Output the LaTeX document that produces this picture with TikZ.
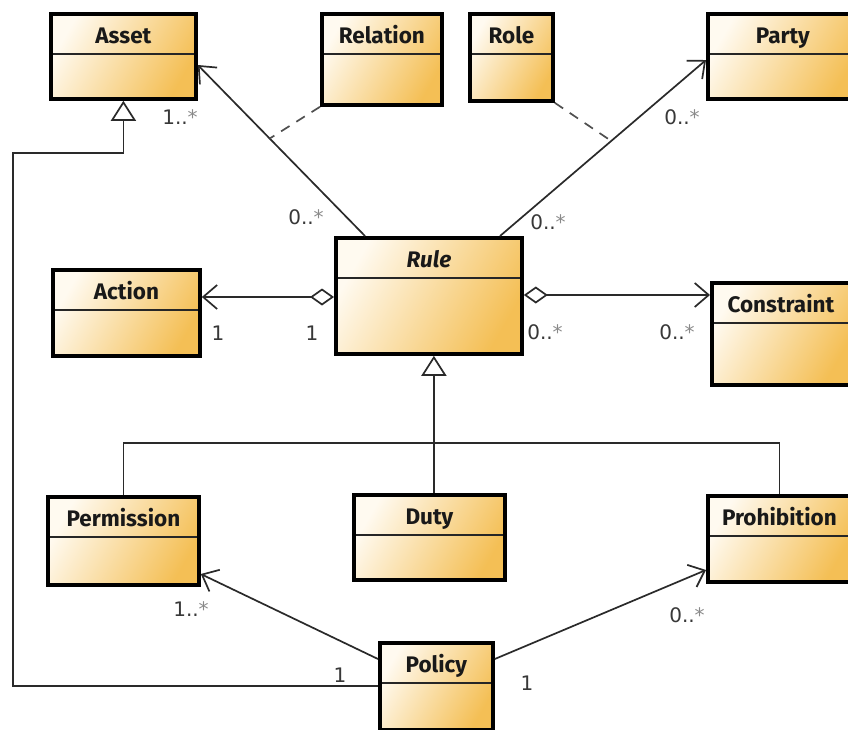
\documentclass[tikz,border=0pt]{standalone}
\usepackage{fontspec}
\usetikzlibrary{arrows.meta,calc}
\newfontfamily\titlefam{Fira Sans}
\newfontfamily\multfam{DejaVu Sans}
\definecolor{boxL}{HTML}{FFFAF0}
\definecolor{boxR}{HTML}{F4BF55}
\definecolor{lc}{HTML}{2A2A2A}
\definecolor{mc}{HTML}{383838}
\definecolor{ac}{HTML}{8A8A8A}
\definecolor{dc}{HTML}{505050}
\tikzset{
  cls/.style 2 args={draw=black, line width=3.8pt, left color=boxL, right color=boxR,
    shading angle=60, inner sep=0pt, anchor=north west, minimum width=#1,
    text height=30pt, text depth=#2, text=black!90,
    font=\titlefam\bfseries\fontsize{22.5}{26}\selectfont,
    path picture={\draw[line width=2.2pt, draw=black!85]
      ([yshift=-40pt]path picture bounding box.north west) --
      ([yshift=-40pt]path picture bounding box.north east);}},
  conn/.style={draw=lc, line width=1.7pt, line join=miter},
  assoc/.style={conn, -{Straight Barb[length=14pt,width=24pt,line width=1.7pt]}},
  aggr/.style={conn, {Diamond[open,length=24pt,width=17pt,fill=white,line width=1.7pt]}-{Straight Barb[length=14pt,width=24pt,line width=1.7pt]}},
  gen/.style={conn, -{Triangle[open,length=20pt,width=25pt,fill=white,line width=1.7pt]}},
  dep/.style={draw=dc, line width=1.7pt, dash pattern=on 10pt off 8pt},
  mult/.style={font=\multfam\fontsize{20}{23}\selectfont, text=mc, inner sep=0pt}
}
\newcommand{\mstar}{{\color{ac}*}}
\begin{document}
\begin{tikzpicture}[x=1pt,y=-1pt]
\fill[white] (0,0) rectangle (848,729);
\clip (0,0) rectangle (848,729);
% classes
\node[cls={145pt}{55pt}] (asset) at (49,12) {Asset};
\node[cls={120pt}{61pt}] (relation) at (320,12) {Relation};
\node[cls={83pt}{57pt}] (role) at (468,12) {Role};
\node[cls={150pt}{55pt}] (party) at (706,12) {Party};
\node[cls={186pt}{86pt}, font=\titlefam\bfseries\itshape\fontsize{22.5}{26}\selectfont] (rule) at (334,236) {Rule};
\node[cls={147pt}{56pt}] (action) at (51,268) {Action};
\node[cls={138pt}{72pt}] (constraint) at (710,281) {Constraint};
\node[cls={151pt}{58pt}] (permission) at (46,495) {Permission};
\node[cls={151pt}{55pt}] (duty) at (352,493) {Duty};
\node[cls={143pt}{56pt}] (prohibition) at (706,494) {Prohibition};
\node[cls={113pt}{57pt}] (policy) at (378,641) {Policy};
% associations from Rule
\draw[assoc] ([xshift=31pt]rule.north west) coordinate (rA) -- ([yshift=-53pt]asset.north east) coordinate (aA);
\draw[assoc] ([xshift=166pt]rule.north west) coordinate (rP) -- ([yshift=-48pt]party.north west) coordinate (pP);
\draw[dep] (relation.south west) -- ($(rA)!0.57!(aA)$);
\draw[dep] (role.south east) -- ($(rP)!0.54!(pP)$);
\draw[aggr] ([yshift=-61pt]rule.north west) -- ([yshift=-29pt]action.north east);
\draw[aggr] ([yshift=-59pt]rule.north east) -- ([yshift=-14pt]constraint.north west);
% generalisation to Rule
\coordinate (gtop) at ([xshift=5pt]rule.south);
\coordinate (bar) at (432,443);
\draw[gen] (duty.north -| gtop) -- (gtop);
\draw[conn] (permission.north) |- (bar) -| (prohibition.north);
% Policy
\draw[assoc] ([yshift=-18pt]policy.north west) -- ([yshift=-79pt]permission.north east);
\draw[assoc] ([yshift=-18pt]policy.north east) -- ([yshift=-76pt]prohibition.north west);
\coordinate (wayL) at (13,153);
\draw[gen] ([yshift=-45pt]policy.north west) -| (wayL) -| (asset.south);
% multiplicities
\node[mult] (m1) at (306,217) {0..\mstar};
\node[mult] (m2) at (180,117) {1..\mstar};
\node[mult] (m3) at (548,222) {0..\mstar};
\node[mult] (m4) at (682,117) {0..\mstar};
\node[mult] (m5) at (218,333) {1};
\node[mult] (m6) at (312,333) {1};
\node[mult] (m7) at (545,332) {0..\mstar};
\node[mult] (m8) at (677,332) {0..\mstar};
\node[mult] (m9) at (191,609) {1..\mstar};
\node[mult] (m10) at (687,615) {0..\mstar};
\node[mult] (m11) at (527,683) {1};
\node[mult] (m12) at (340,675) {1};
\end{tikzpicture}
\end{document}
